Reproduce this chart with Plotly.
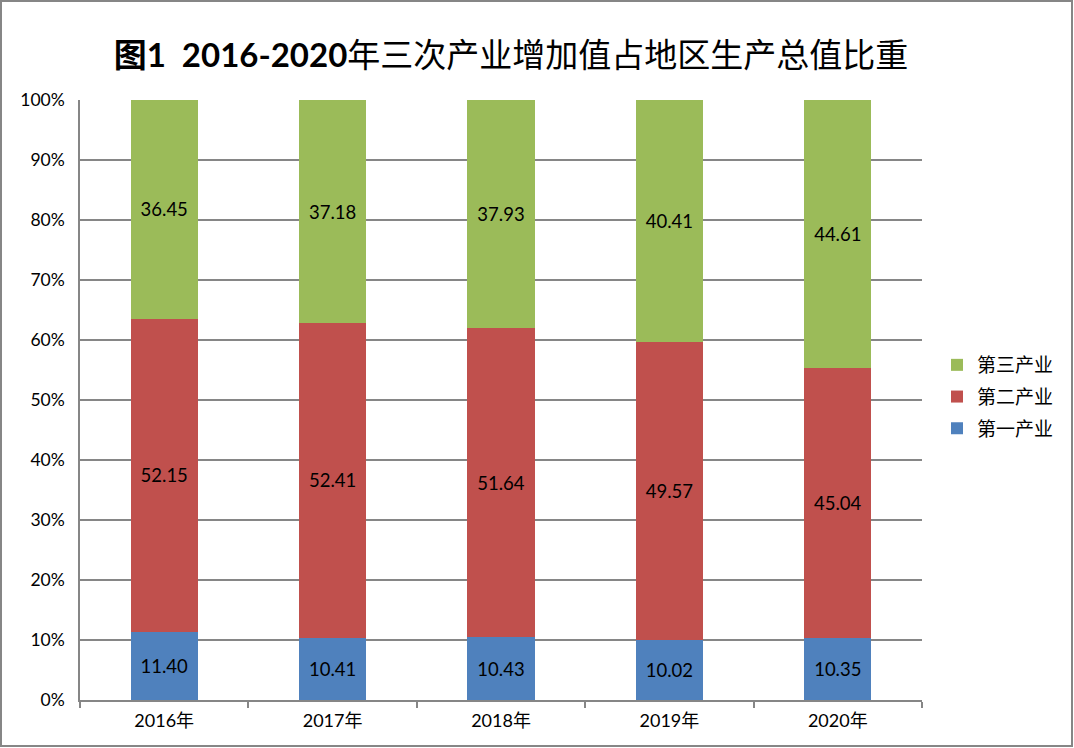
import plotly.graph_objects as go

years = ['2016年', '2017年', '2018年', '2019年', '2020年']
primary = [11.40, 10.41, 10.43, 10.02, 10.35]
secondary = [52.15, 52.41, 51.64, 49.57, 45.04]
tertiary = [36.45, 37.18, 37.93, 40.41, 44.61]
y_ticks = [0, 10, 20, 30, 40, 50, 60, 70, 80, 90, 100]
y_labels = [f'{v}%' for v in y_ticks]

W, H = 1074, 748
ML, MR, MT, MB = 80, 152, 100, 48
pw, ph = W - ML - MR, H - MT - MB

font = 'Lato, Noto Sans CJK SC, sans-serif'

fig = go.Figure()

for rank, (name, vals, color) in enumerate([('第一产业', primary, '#4F81BD'),
                                            ('第二产业', secondary, '#C0504D'),
                                            ('第三产业', tertiary, '#9BBB59')]):
    fig.add_trace(go.Bar(
        x=years,
        y=vals,
        name=name,
        legendgroup=name,
        legendrank=3 - rank,
        marker_color=color,
        marker_line_width=0,
        width=0.4,
        text=[f'{v:.2f}' for v in vals],
        textposition='inside',
        insidetextanchor='middle',
        textangle=0,
        textfont=dict(size=18.5, color='black', family=font),
    ))

# outer chart border, in paper coords
fig.add_shape(type='rect', xref='paper', yref='paper',
              x0=(1 - ML) / pw, x1=(W - 2 - ML) / pw,
              y0=-(H - 2 - MT - ph) / ph, y1=(MT - 1) / ph + 1,
              line=dict(color='#868686', width=2), layer='above')

fig.update_layout(
    barmode='stack',
    width=W, height=H,
    margin=dict(l=ML, r=MR, t=MT, b=MB),
    paper_bgcolor='white',
    plot_bgcolor='white',
    font=dict(family=font, size=17.5, color='black'),
    title=dict(text='<b>图1  2016-2020</b>年三次产业增加值占地区生产总值比重',
               x=511 / W, xanchor='center', y=1 - 55 / H, yanchor='middle',
               font=dict(size=33, color='black', family=font)),
    legend=dict(x=(937 - ML) / pw, y=0.505, xanchor='left', yanchor='middle',
                traceorder='grouped', font=dict(size=19),
                itemwidth=30, tracegroupgap=4),
)

fig.update_xaxes(showline=True, linecolor='#868686', linewidth=1.5,
                 ticks='outside', tickson='boundaries', ticklen=6,
                 tickcolor='#868686', tickwidth=1.5,
                 ticklabelstandoff=4, tickfont=dict(size=18))
fig.update_yaxes(range=[0, 100], tickvals=y_ticks, ticktext=y_labels,
                 showgrid=True, gridcolor='#868686', gridwidth=1.5,
                 showline=True, linecolor='#868686', linewidth=1.5,
                 zeroline=False, ticks='', ticklabelstandoff=10,
                 tickfont=dict(size=17.5))

fig.write_html('out.html', config={'displayModeBar': False},
               post_script="document.body.style.margin='0';")
